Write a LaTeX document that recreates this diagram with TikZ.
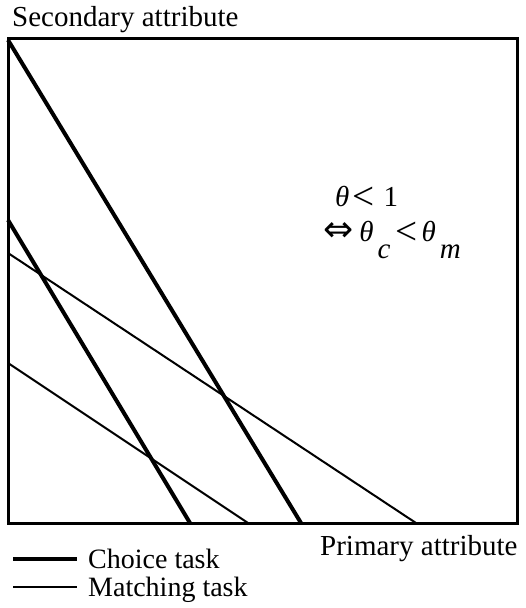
\documentclass[tikz,border=0pt]{standalone}
\usepackage{fontspec}
\setmainfont{Liberation Serif}
\newfontfamily\arrowfont{DejaVu Sans}
\usetikzlibrary{positioning}

\newcommand{\thsub}[1]{\textit{θ}\hspace{4pt}\raisebox{-17pt}{\textit{#1}}}
\newcommand{\lessth}{\raisebox{-3pt}{\scalebox{1.35}{<}}}

\begin{document}
\begin{tikzpicture}[
    x=1pt,y=-1pt,
    lbl/.style={inner sep=0pt,anchor=base west,font=\fontsize{29}{33}\selectfont},
    cond/.style={inner sep=0pt,anchor=base west,font=\fontsize{29}{33}\selectfont},
    choice/.style={line width=4pt},
    matching/.style={line width=2pt},
]
\useasboundingbox (0,0) rectangle (525,608);
% frame
\draw[line width=3pt] (8,38) rectangle (517,523);
% end points of the lines
\coordinate (c1a) at (8,40);   \coordinate (c1b) at (301,523);
\coordinate (c2a) at (8,220);  \coordinate (c2b) at (190,523);
\coordinate (m1a) at (8,253);  \coordinate (m1b) at (416,523);
\coordinate (m2a) at (8,363);  \coordinate (m2b) at (248,523);
\draw[choice] (c1a) -- (c1b);
\draw[choice] (c2a) -- (c2b);
\draw[matching] (m1a) -- (m1b);
\draw[matching] (m2a) -- (m2b);
% labels
\node[lbl] (ylab) at (12,26) {Secondary attribute};
\node[lbl] (xlab) at (320,555) {Primary attribute};
\node[cond] (cond1) at (335,206) {\textit{θ}\hspace{3pt}\lessth\hspace{9pt}1};
\node[cond] (cond2) at (323,241)
    {{\arrowfont\fontsize{36}{38}\selectfont ⇔}\hspace{6pt}\thsub{c}\hspace{5pt}\lessth\hspace{4pt}\thsub{m}};
% legend
\node[lbl,font=\fontsize{28}{32}\selectfont] (chtxt) at (88,568) {Choice task};
\node[lbl,font=\fontsize{28}{32}\selectfont] (mttxt) at (88,596) {Matching task};
\coordinate (chl) at (13,559);
\coordinate (mtl) at (13,587);
\draw[choice] (chl) -- ([xshift=-11pt]chl -| chtxt.west);
\draw[matching] (mtl) -- ([xshift=-11pt]mtl -| mttxt.west);
\end{tikzpicture}
\end{document}
